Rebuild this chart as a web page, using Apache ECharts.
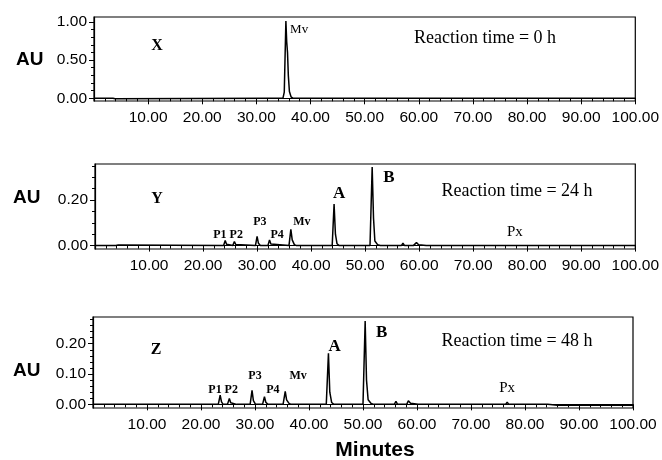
<!DOCTYPE html>
<html>
<head>
<meta charset="utf-8">
<script src="https://cdn.jsdelivr.net/npm/echarts@6/dist/echarts.min.js"></script>
<style>
  html, body { margin: 0; padding: 0; background: #fff; }
  #chart { width: 662px; height: 460px; }
</style>
</head>
<body>
<div id="chart"></div>
<script>
// 色谱图数据 (time in minutes, AU)
const xTicks = [10, 20, 30, 40, 50, 60, 70, 80, 90, 100]
const auTicksX = [0, 0.5, 1.0]
const auTicksY = [0, 0.2]
const auTicksZ = [0, 0.1, 0.2]

// X: reaction time = 0 h
const traceX = [
  [0, 0], [3.5, 0], [3.6, -0.006], [3.9, -0.006], [4.0, 0],
  [32.0, 0], [32.15, 0.014], [32.3, 0],
  [34.9, 0], [35.15, 0.08], [35.3, 0.55], [35.45, 1.01], [35.6, 0.74], [35.75, 0.6],
  [35.9, 0.3], [36.1, 0.09], [36.4, 0.02], [36.8, 0],
  [100, 0]
]

// Y: reaction time = 24 h
const traceY = [
  [0, 0], [3.5, 0], [3.7, 0.005], [3.9, 0], [4.3, 0.003], [4.6, 0],
  [23.8, 0], [24.1, 0.022], [24.35, 0.006], [24.6, 0],
  [25.5, 0], [25.8, 0.018], [26.05, 0.005], [26.3, 0],
  [29.7, 0], [30.0, 0.04], [30.25, 0.01], [30.6, 0],
  [32.0, 0], [32.3, 0.025], [32.55, 0.007], [32.9, 0],
  [35.9, 0], [36.25, 0.071], [36.5, 0.025], [36.9, 0.004], [37.3, 0],
  [38.3, 0], [38.5, 0.005], [38.7, 0],
  [40.6, 0], [40.8, 0.005], [41.0, 0],
  [43.9, 0], [44.25, 0.182], [44.5, 0.05], [44.8, 0.008], [45.2, 0],
  [46.2, 0], [46.4, 0.006], [46.6, 0],
  [47.1, 0], [47.4, 0.008], [47.7, 0],
  [49.3, 0], [49.5, 0.005], [49.7, 0],
  [50.9, 0], [51.3, 0.345], [51.55, 0.12], [51.8, 0.02], [52.3, 0.004], [52.8, 0],
  [55.0, 0], [55.2, 0.007], [55.4, 0],
  [56.7, 0], [57.0, 0.01], [57.3, 0],
  [58.5, 0], [58.7, 0.005], [58.9, 0],
  [59.2, 0], [59.5, 0.013], [59.9, 0.004], [60.2, 0],
  [61.3, 0], [61.5, 0.005], [61.7, 0],
  [65.3, 0], [65.5, 0.005], [65.7, 0],
  [67.3, 0], [67.5, 0.005], [67.7, 0],
  [69.1, 0], [69.3, 0.005], [69.5, 0],
  [75.7, 0], [75.9, 0.007], [76.1, 0],
  [78.1, 0], [78.3, 0.005], [78.5, 0],
  [80.2, 0], [80.4, 0.005], [80.6, 0],
  [100, 0]
]

// Z: reaction time = 48 h
const traceZ = [
  [0, 0], [3.2, 0], [3.4, 0.006], [3.6, 0], [5.0, 0], [5.2, 0.004], [5.4, 0],
  [15.6, 0], [15.8, 0.004], [16.0, 0], [18.9, 0], [19.1, 0.004], [19.3, 0],
  [23.2, 0], [23.55, 0.03], [23.8, 0.008], [24.1, 0],
  [24.9, 0], [25.25, 0.019], [25.5, 0.005], [25.8, 0],
  [26.6, 0], [26.8, 0.005], [27.0, 0],
  [29.1, 0], [29.45, 0.046], [29.7, 0.012], [30.1, 0],
  [31.4, 0], [31.75, 0.025], [32.0, 0.007], [32.4, 0],
  [35.2, 0], [35.6, 0.043], [35.85, 0.015], [36.3, 0.003], [36.7, 0],
  [38.6, 0], [38.8, 0.004], [39.0, 0],
  [40.1, 0], [40.3, 0.005], [40.5, 0],
  [43.2, 0], [43.6, 0.168], [43.85, 0.04], [44.2, 0.006], [44.6, 0],
  [46.3, 0], [46.5, 0.006], [46.7, 0],
  [48.4, 0], [48.6, 0.005], [48.8, 0],
  [50.0, 0], [50.4, 0.275], [50.65, 0.08], [50.95, 0.015], [51.5, 0.003], [52.0, 0],
  [54.0, 0], [54.2, 0.005], [54.4, 0],
  [55.8, 0], [56.1, 0.01], [56.4, 0],
  [58.1, 0], [58.4, 0.012], [58.8, 0.004], [59.1, 0],
  [60.2, 0], [60.4, 0.005], [60.6, 0],
  [61.7, 0], [61.9, 0.004], [62.1, 0],
  [65.9, 0], [66.1, 0.004], [66.3, 0],
  [67.9, 0], [68.1, 0.004], [68.3, 0],
  [72.4, 0], [72.6, 0.004], [72.8, 0],
  [74.3, 0], [74.5, 0.005], [74.7, 0],
  [76.4, 0], [76.7, 0.007], [77.0, 0],
  [84.2, 0], [84.3, -0.003], [86.0, -0.003], [86.2, 0.001], [86.4, -0.003], [100, -0.003]
]

// 峰标注: [name, time, AU, style]
const peaksX = [['Mv', 37.9, 0.9, 'mv']]
const peaksY = [
  ['P1', 23.1, 0.046, 'p'], ['P2', 26.15, 0.046, 'p'], ['P3', 30.5, 0.105, 'p'],
  ['P4', 33.7, 0.046, 'p'], ['Mv', 38.3, 0.105, 'p'],
  ['A', 45.2, 0.226, 'big'], ['B', 54.4, 0.299, 'big'], ['Px', 77.7, 0.059, 'px']
]
const peaksZ = [
  ['P1', 22.6, 0.0475, 'p'], ['P2', 25.6, 0.0475, 'p'], ['P3', 30.0, 0.093, 'p'],
  ['P4', 33.3, 0.0465, 'p'], ['Mv', 38.0, 0.095, 'p'],
  ['A', 44.75, 0.19, 'big'], ['B', 53.45, 0.2375, 'big'], ['Px', 76.7, 0.055, 'px']
]

const SANS = '"Liberation Sans", Arial, sans-serif'
const SERIF = '"Liberation Serif", "Times New Roman", serif'

function steps (from, to, step) {
  const out = []
  for (let v = from; v <= to + 1e-9; v += step) out.push(+v.toFixed(4))
  return out
}

const labelStyles = {
  mv: { fontFamily: SERIF, fontSize: 13, fontWeight: 'normal' },
  p: { fontFamily: SERIF, fontSize: 12, fontWeight: 'bold' },
  big: { fontFamily: SERIF, fontSize: 17, fontWeight: 'bold' },
  px: { fontFamily: SERIF, fontSize: 15, fontWeight: 'normal' }
}

const panels = [
  { grid: { left: 94, top: 17, width: 543, height: 84 }, yMin: -0.035, yMax: 1.063,
    yLabels: auTicksX, yMinor: steps(0, 1, 0.1), data: traceX, peaks: peaksX },
  { grid: { left: 95, top: 164, width: 542, height: 85 }, yMin: -0.015, yMax: 0.358,
    yLabels: auTicksY, yMinor: steps(0, 0.35, 0.05), data: traceY, peaks: peaksY },
  { grid: { left: 93, top: 317, width: 540, height: 91 }, yMin: -0.012, yMax: 0.288,
    yLabels: auTicksZ, yMinor: steps(0, 0.28, 0.02), data: traceZ, peaks: peaksZ }
]

const grid = []
const xAxis = []
const yAxis = []
const series = []

panels.forEach((p, i) => {
  grid.push(Object.assign({ show: true, borderColor: '#000', borderWidth: 1.2, backgroundColor: 'transparent' }, p.grid))
  // 主刻度 + 标签
  xAxis.push({
    type: 'value', gridIndex: i, min: 0, max: 100, position: 'bottom',
    axisLine: { show: true, lineStyle: { color: '#000', width: 1.2 } },
    axisTick: { show: true, inside: false, length: 6, customValues: xTicks, lineStyle: { color: '#000' } },
    axisLabel: { show: true, customValues: xTicks, margin: 9, color: '#000', fontFamily: SANS, fontSize: 15.5,
      formatter: v => v.toFixed(2) },
    splitLine: { show: false }
  })
  // 次刻度
  xAxis.push({
    type: 'value', gridIndex: i, min: 0, max: 100, position: 'bottom',
    axisLine: { show: false },
    axisTick: { show: true, inside: false, length: 3, customValues: steps(2, 98, 2), lineStyle: { color: '#000' } },
    axisLabel: { show: false },
    splitLine: { show: false }
  })
  yAxis.push({
    type: 'value', gridIndex: i, min: p.yMin, max: p.yMax, position: 'left',
    axisLine: { show: true, lineStyle: { color: '#000', width: 1.2 } },
    axisTick: { show: true, inside: false, length: 5, customValues: p.yLabels, lineStyle: { color: '#000' } },
    axisLabel: { show: true, customValues: p.yLabels, margin: 7, color: '#000', fontFamily: SANS, fontSize: 15.5,
      formatter: v => v.toFixed(2) },
    splitLine: { show: false }
  })
  yAxis.push({
    type: 'value', gridIndex: i, min: p.yMin, max: p.yMax, position: 'left',
    axisLine: { show: false },
    axisTick: { show: true, inside: false, length: 3, customValues: p.yMinor, lineStyle: { color: '#000' } },
    axisLabel: { show: false },
    splitLine: { show: false }
  })
  series.push({
    type: 'line', xAxisIndex: i * 2, yAxisIndex: i * 2, data: p.data,
    symbol: 'none', smooth: false,
    lineStyle: { color: '#000', width: 1.5 },
    markPoint: {
      symbol: 'circle', symbolSize: 1,
      itemStyle: { color: 'rgba(0,0,0,0)' },
      data: p.peaks.map(pk => ({
        name: pk[0], coord: [pk[1], pk[2]],
        label: Object.assign({ show: true, position: 'inside', formatter: '{b}', color: '#000' }, labelStyles[pk[3]])
      }))
    }
  })
})

const text = (str, x, y, font, align) => ({
  type: 'text', x, y,
  style: { text: str, font, fill: '#000', align: align || 'left', verticalAlign: 'middle' }
})

const graphic = [
  text('AU', 16, 60, 'bold 19px ' + SANS),
  text('AU', 13, 198, 'bold 19px ' + SANS),
  text('AU', 13, 371, 'bold 19px ' + SANS),
  text('X', 157, 45.5, 'bold 16px ' + SERIF, 'center'),
  text('Y', 157, 199, 'bold 16px ' + SERIF, 'center'),
  text('Z', 156, 350, 'bold 16px ' + SERIF, 'center'),
  text('Reaction time = 0 h', 485, 38, '18px ' + SERIF, 'center'),
  text('Reaction time = 24 h', 517, 191.5, '18px ' + SERIF, 'center'),
  text('Reaction time = 48 h', 517, 341.5, '18px ' + SERIF, 'center'),
  text('Minutes', 375, 450.5, 'bold 21px ' + SANS, 'center')
]

const myChart = echarts.init(document.getElementById('chart'))
myChart.setOption({
  animation: false,
  backgroundColor: '#fff',
  grid,
  xAxis,
  yAxis,
  series,
  graphic
})
</script>
</body>
</html>
